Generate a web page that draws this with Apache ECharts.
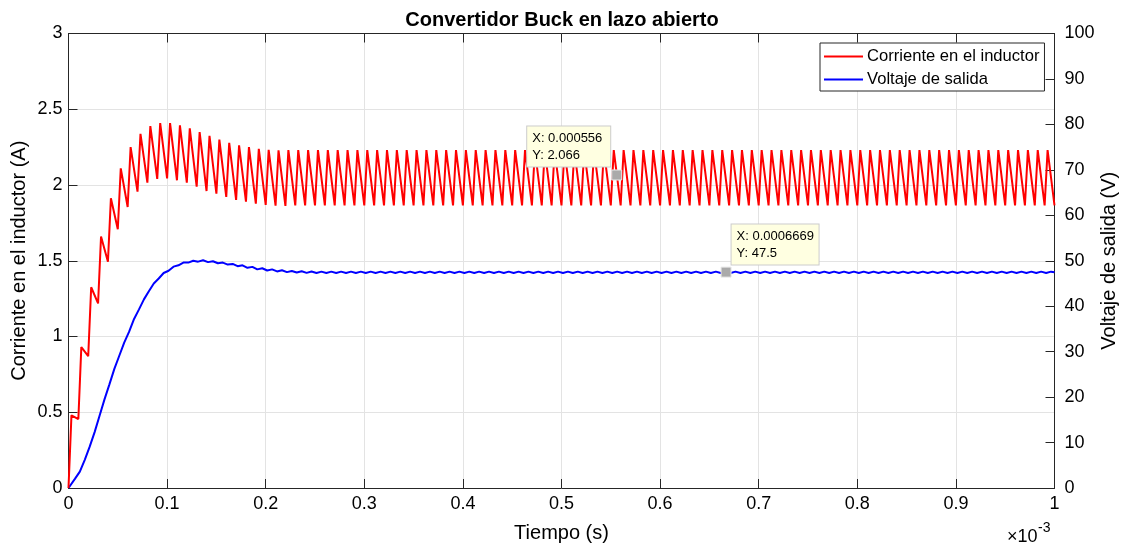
<!DOCTYPE html>
<html>
<head>
<meta charset="utf-8">
<title>Convertidor Buck en lazo abierto</title>
<script src="https://cdn.jsdelivr.net/npm/echarts@6/dist/echarts.min.js"></script>
<style>
  html, body { margin: 0; padding: 0; background: #fff; }
  #grafica { width: 1124px; height: 546px; }
</style>
</head>
<body>
<div id="grafica"></div>
<script>
// tiempo en unidades de 1e-3 s, periodo de conmutacion 10 us
const periodo = 0.01;
const tEncendido = 0.003; // instante del pico dentro de cada ciclo

// corriente en el inductor (A): valor pico de cada ciclo (100 ciclos)
const picos = [
  0.48, 0.93, 1.325, 1.66, 1.912, 2.11, 2.25, 2.338, 2.389, 2.409,
  2.409, 2.394, 2.374, 2.349, 2.325, 2.30, 2.278, 2.262, 2.25, 2.239,
  2.232, 2.229, 2.23, 2.23, 2.23, 2.23, 2.23, 2.23, 2.23, 2.23,
  2.23, 2.23, 2.23, 2.23, 2.23, 2.23, 2.23, 2.23, 2.23, 2.23,
  2.23, 2.23, 2.23, 2.23, 2.23, 2.23, 2.23, 2.23, 2.23, 2.23,
  2.23, 2.23, 2.23, 2.23, 2.23, 2.23, 2.23, 2.23, 2.23, 2.23,
  2.23, 2.23, 2.23, 2.23, 2.23, 2.23, 2.23, 2.23, 2.23, 2.23,
  2.23, 2.23, 2.23, 2.23, 2.23, 2.23, 2.23, 2.23, 2.23, 2.23,
  2.23, 2.23, 2.23, 2.23, 2.23, 2.23, 2.23, 2.23, 2.23, 2.23,
  2.23, 2.23, 2.23, 2.23, 2.23, 2.23, 2.23, 2.23, 2.23, 2.23
];
// corriente en el inductor (A): valor valle al inicio de cada ciclo (101 puntos)
const valles = [
  0, 0.455, 0.87, 1.218, 1.494, 1.708, 1.855, 1.956, 2.015, 2.04,
  2.044, 2.031, 2.015, 1.989, 1.96, 1.943, 1.921, 1.901, 1.89, 1.877,
  1.868, 1.864, 1.862, 1.865, 1.865, 1.865, 1.865, 1.865, 1.865, 1.865,
  1.865, 1.865, 1.865, 1.865, 1.865, 1.865, 1.865, 1.865, 1.865, 1.865,
  1.865, 1.865, 1.865, 1.865, 1.865, 1.865, 1.865, 1.865, 1.865, 1.865,
  1.865, 1.865, 1.865, 1.865, 1.865, 1.865, 1.865, 1.865, 1.865, 1.865,
  1.865, 1.865, 1.865, 1.865, 1.865, 1.865, 1.865, 1.865, 1.865, 1.865,
  1.865, 1.865, 1.865, 1.865, 1.865, 1.865, 1.865, 1.865, 1.865, 1.865,
  1.865, 1.865, 1.865, 1.865, 1.865, 1.865, 1.865, 1.865, 1.865, 1.865,
  1.865, 1.865, 1.865, 1.865, 1.865, 1.865, 1.865, 1.865, 1.865, 1.865,
  1.865
];

// voltaje de salida (V): minimo y maximo del rizado en cada ciclo
const tMinV = 0.0015;
const tMaxV = 0.0065;
const vMin = [
  0.4, 3.6, 9.1, 15.9, 22.8, 29.1, 34.4, 39.3, 43.3, 46.1,
  47.8, 49.0, 49.6, 49.8, 49.7, 49.45, 49.15, 48.8, 48.45, 48.1,
  47.85, 47.65, 47.5, 47.4, 47.33, 47.3, 47.3, 47.3, 47.3, 47.3,
  47.3, 47.3, 47.3, 47.3, 47.3, 47.3, 47.3, 47.3, 47.3, 47.3,
  47.3, 47.3, 47.3, 47.3, 47.3, 47.3, 47.3, 47.3, 47.3, 47.3,
  47.3, 47.3, 47.3, 47.3, 47.3, 47.3, 47.3, 47.3, 47.3, 47.3,
  47.3, 47.3, 47.3, 47.3, 47.3, 47.3, 47.3, 47.3, 47.3, 47.3,
  47.3, 47.3, 47.3, 47.3, 47.3, 47.3, 47.3, 47.3, 47.3, 47.3,
  47.3, 47.3, 47.3, 47.3, 47.3, 47.3, 47.3, 47.3, 47.3, 47.3,
  47.3, 47.3, 47.3, 47.3, 47.3, 47.3, 47.3, 47.3, 47.3, 47.3
];
const vMax = [
  2.0, 6.2, 12.3, 19.5, 26.2, 32.0, 37.2, 41.5, 45.0, 47.3,
  48.7, 49.6, 50.0, 50.1, 49.9, 49.6, 49.3, 49.0, 48.65, 48.35,
  48.1, 47.9, 47.75, 47.68, 47.63, 47.6, 47.6, 47.6, 47.6, 47.6,
  47.6, 47.6, 47.6, 47.6, 47.6, 47.6, 47.6, 47.6, 47.6, 47.6,
  47.6, 47.6, 47.6, 47.6, 47.6, 47.6, 47.6, 47.6, 47.6, 47.6,
  47.6, 47.6, 47.6, 47.6, 47.6, 47.6, 47.6, 47.6, 47.6, 47.6,
  47.6, 47.6, 47.6, 47.6, 47.6, 47.6, 47.6, 47.6, 47.6, 47.6,
  47.6, 47.6, 47.6, 47.6, 47.6, 47.6, 47.6, 47.6, 47.6, 47.6,
  47.6, 47.6, 47.6, 47.6, 47.6, 47.6, 47.6, 47.6, 47.6, 47.6,
  47.6, 47.6, 47.6, 47.6, 47.6, 47.6, 47.6, 47.6, 47.6, 47.6
];
const vInicial = 0;
const vFinal = 47.45;

// marcas de dato (data tips)
const tipCorriente = [0.556, 2.066];
const tipVoltaje = [0.6669, 47.5];

//armar puntos de las series
const datosCorriente = [[0, valles[0]]];
picos.forEach((p, k) => {
  datosCorriente.push([k * periodo + tEncendido, p]);
  datosCorriente.push([(k + 1) * periodo, valles[k + 1]]);
});

const datosVoltaje = [[0, vInicial]];
vMin.forEach((v, k) => {
  datosVoltaje.push([k * periodo + tMinV, v]);
  datosVoltaje.push([k * periodo + tMaxV, vMax[k]]);
});
datosVoltaje.push([1, vFinal]);

const colorEje = "#262626";
const fuente = "Liberation Sans, Arial, Helvetica, sans-serif";

const chart = echarts.init(document.getElementById("grafica"), null, { renderer: "canvas" });

//caja amarilla del data tip
function cajaTip(anchoTexto, extra) {
  return Object.assign(
    {
      show: true,
      backgroundColor: "#ffffe1",
      borderColor: "#cccccc",
      borderWidth: 1,
      padding: [3, 6, 3, 5],
      rich: {
        t: {
          fontFamily: fuente,
          fontSize: 13,
          lineHeight: 17,
          color: "#000",
          width: anchoTexto,
          align: "left",
        },
      },
    },
    extra
  );
}

const option = {
  animation: false,
  backgroundColor: "#ffffff",
  textStyle: { fontFamily: fuente },
  title: {
    text: "Convertidor Buck en lazo abierto",
    left: "center",
    top: 5,
    textStyle: { fontFamily: fuente, fontSize: 20, fontWeight: "bold", color: "#000" },
  },
  grid: {
    left: 68.5,
    right: 69.5,
    top: 33.5,
    bottom: 58,
    containLabel: false,
    outerBoundsMode: "none",
  },
  legend: {
    orient: "vertical",
    left: 820,
    top: 43,
    icon: "rect",
    itemWidth: 39,
    itemHeight: 2,
    itemGap: 6,
    padding: [5, 5, 3, 4],
    backgroundColor: "#ffffff",
    borderColor: colorEje,
    borderWidth: 1,
    borderRadius: 0,
    textStyle: { fontFamily: fuente, fontSize: 16.6, color: "#000", padding: [0, 0, 0, -1] },
    data: ["Corriente en el inductor", "Voltaje de salida"],
  },
  xAxis: [
    {
      type: "value",
      min: 0,
      max: 1,
      interval: 0.1,
      position: "bottom",
      name: "Tiempo (s)",
      nameLocation: "middle",
      nameGap: 35,
      nameMoveOverlap: false,
      nameTextStyle: { fontFamily: fuente, fontSize: 20, color: "#000" },
      axisLine: { show: true, onZero: false, lineStyle: { color: colorEje, width: 1 } },
      axisTick: { show: true, inside: true, length: 9, lineStyle: { color: colorEje } },
      axisLabel: {
        fontFamily: fuente,
        fontSize: 18,
        color: "#000",
        margin: 7,
        formatter: (v) => String(Number(v.toFixed(1))),
      },
      splitLine: { show: true, lineStyle: { color: "#e3e3e3", width: 1 } },
    },
    {
      type: "value",
      min: 0,
      max: 1,
      interval: 0.1,
      position: "top",
      axisLine: { show: true, onZero: false, lineStyle: { color: colorEje, width: 1 } },
      axisTick: { show: true, inside: true, length: 9, lineStyle: { color: colorEje } },
      axisLabel: { show: false },
      splitLine: { show: false },
    },
  ],
  yAxis: [
    {
      type: "value",
      min: 0,
      max: 3,
      interval: 0.5,
      position: "left",
      name: "Corriente en el inductor (A)",
      nameLocation: "middle",
      nameRotate: 90,
      nameGap: 39,
      nameMoveOverlap: false,
      nameTextStyle: { fontFamily: fuente, fontSize: 20, color: "#000" },
      axisLine: { show: true, onZero: false, lineStyle: { color: colorEje, width: 1 } },
      axisTick: { show: true, inside: true, length: 9, lineStyle: { color: colorEje } },
      axisLabel: { fontFamily: fuente, fontSize: 18, color: "#000", margin: 6 },
      splitLine: { show: true, lineStyle: { color: "#e3e3e3", width: 1 } },
    },
    {
      type: "value",
      min: 0,
      max: 100,
      interval: 10,
      position: "right",
      name: "Voltaje de salida (V)",
      nameLocation: "middle",
      nameRotate: 90,
      nameGap: 45,
      nameMoveOverlap: false,
      nameTextStyle: { fontFamily: fuente, fontSize: 20, color: "#000" },
      axisLine: { show: true, onZero: false, lineStyle: { color: colorEje, width: 1 } },
      axisTick: { show: true, inside: true, length: 9, lineStyle: { color: colorEje } },
      axisLabel: { fontFamily: fuente, fontSize: 18, color: "#000", margin: 10 },
      splitLine: { show: false },
    },
  ],
  series: [
    {
      name: "Corriente en el inductor",
      type: "line",
      xAxisIndex: 0,
      yAxisIndex: 0,
      data: datosCorriente,
      showSymbol: false,
      color: "#ff0000",
      lineStyle: { color: "#ff0000", width: 2 },
      z: 3,
      markPoint: {
        symbol: "rect",
        symbolSize: 10,
        itemStyle: { color: "#aaaaaa", borderColor: "#e8e8e8", borderWidth: 1 },
        label: cajaTip(72, {
          position: [-1, -3],
          align: "right",
          verticalAlign: "bottom",
          formatter: "{t|X: 0.000556}\n{t|Y: 2.066}",
        }),
        data: [{ coord: tipCorriente }],
      },
    },
    {
      name: "Voltaje de salida",
      type: "line",
      xAxisIndex: 0,
      yAxisIndex: 1,
      data: datosVoltaje,
      showSymbol: false,
      color: "#0000ff",
      lineStyle: { color: "#0000ff", width: 2 },
      z: 2,
      markPoint: {
        symbol: "rect",
        symbolSize: 10,
        itemStyle: { color: "#aaaaaa", borderColor: "#e8e8e8", borderWidth: 1 },
        label: cajaTip(76, {
          position: [11, -2],
          align: "left",
          verticalAlign: "bottom",
          formatter: "{t|X: 0.0006669}\n{t|Y: 47.5}",
        }),
        data: [{ coord: tipVoltaje }],
      },
    },
  ],
  graphic: [
    {
      type: "text",
      left: 1007,
      top: 528,
      style: { text: "×10", fontFamily: fuente, fontSize: 18, fill: "#000" },
    },
    {
      type: "text",
      left: 1038,
      top: 521,
      style: { text: "-3", fontFamily: fuente, fontSize: 14, fill: "#000" },
    },
  ],
};

chart.setOption(option);
</script>
</body>
</html>
